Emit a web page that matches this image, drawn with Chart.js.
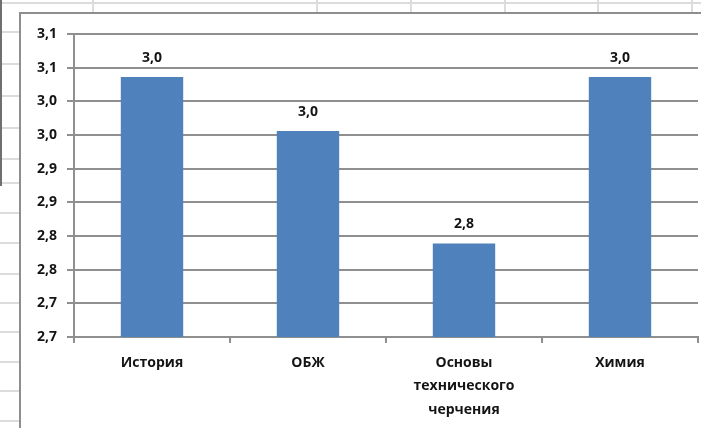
<!DOCTYPE html>
<html lang="ru">
<head>
<meta charset="utf-8">
<title>Средний балл</title>
<script src="https://cdn.jsdelivr.net/npm/chart.js@4.4.0/dist/chart.umd.min.js"></script>
<style>
  html, body { margin: 0; padding: 0; background: #fff; }
  body { width: 701px; height: 428px; position: relative; overflow: hidden; }
  .hl, .vl { position: absolute; background: #dadcdd; }
  .hl { height: 2px; }
  .vl { width: 2px; }
  #edge { position: absolute; left: 0; top: 0; width: 2px; height: 186px; background: #6f6f6f; }
  #frame {
    position: absolute; left: 19px; top: 12px; right: -10px; bottom: -10px;
    border-left: 2px solid #8e8e8e; border-top: 2px solid #8e8e8e; background: #fff;
  }
  #wrap { position: absolute; left: 21px; top: 14px; width: 680px; height: 414px; }
</style>
</head>
<body>
<div id="sheet"></div>
<div id="edge"></div>
<div id="frame"></div>
<div id="wrap"><canvas id="barChart"></canvas></div>
<script>
const subjects = ['История', 'ОБЖ', ['Основы', 'технического', 'черчения'], 'Химия'];
const avgScores = [3.036, 2.956, 2.789, 3.036];
const scoreLabels = ['3,0', '3,0', '2,8', '3,0'];
const yTickLabels = ['2,7', '2,7', '2,8', '2,8', '2,9', '2,9', '3,0', '3,0', '3,1', '3,1'];

// spreadsheet cells behind the chart
(function(){
  const sheet = document.getElementById('sheet');
  const rows = [3, 32, 64, 96, 128, 159, 183, 213, 243, 274, 303, 332, 362, 391, 421];
  const cols = [93, 317, 411, 505, 598, 692];
  rows.forEach(function(y, i){
    const d = document.createElement('div');
    d.className = 'hl';
    d.style.top = (y - 1) + 'px';
    d.style.left = '0px';
    d.style.width = i === 0 ? '701px' : '20px';
    sheet.appendChild(d);
  });
  cols.forEach(function(x){
    const d = document.createElement('div');
    d.className = 'vl';
    d.style.left = (x - 1) + 'px';
    d.style.top = '0px';
    d.style.height = '13px';
    sheet.appendChild(d);
  });
})();

const FONT = { family: '"Open Sans", sans-serif', size: 14, weight: '700' };
const GRID = '#8f8f8f';
const TEXT = '#141414';

const valueLabels = {
  id: 'valueLabels',
  afterDatasetsDraw(chart){
    const ctx = chart.ctx;
    const meta = chart.getDatasetMeta(0);
    ctx.save();
    ctx.font = '700 14px "Open Sans", sans-serif';
    ctx.fillStyle = TEXT;
    ctx.textAlign = 'center';
    ctx.textBaseline = 'middle';
    meta.data.forEach(function(bar, i){
      ctx.fillText(scoreLabels[i], bar.x, bar.y - 19);
    });
    ctx.restore();
  }
};

new Chart(document.getElementById('barChart'), {
  type: 'bar',
  data: {
    labels: subjects,
    datasets: [{
      data: avgScores,
      backgroundColor: '#4f81bd',
      borderWidth: 0,
      categoryPercentage: 1,
      barPercentage: 0.4
    }]
  },
  options: {
    responsive: true,
    maintainAspectRatio: false,
    animation: false,
    layout: { padding: { top: 20, right: 3, left: 0, bottom: 0 } },
    plugins: { legend: { display: false }, tooltip: { enabled: false } },
    scales: {
      x: {
        offset: true,
        grid: { display: true, drawOnChartArea: false, drawTicks: true, tickLength: 6, color: GRID, lineWidth: 2, offset: true },
        border: { display: true, color: GRID, width: 2 },
        ticks: { color: TEXT, font: Object.assign({}, FONT, { lineHeight: 1.68 }), padding: 8, maxRotation: 0, autoSkip: false },
        afterFit(scale){ scale.height = 91; }
      },
      y: {
        min: 2.65,
        max: 3.10,
        grid: { color: GRID, lineWidth: 2, drawTicks: true, tickLength: 7 },
        border: { display: true, color: GRID, width: 2 },
        ticks: {
          stepSize: 0.05,
          color: TEXT,
          font: FONT,
          padding: 10,
          callback: function(value, index){ return yTickLabels[index]; }
        },
        afterFit(scale){ scale.width = 53; }
      }
    }
  },
  plugins: [valueLabels]
});
</script>
</body>
</html>
